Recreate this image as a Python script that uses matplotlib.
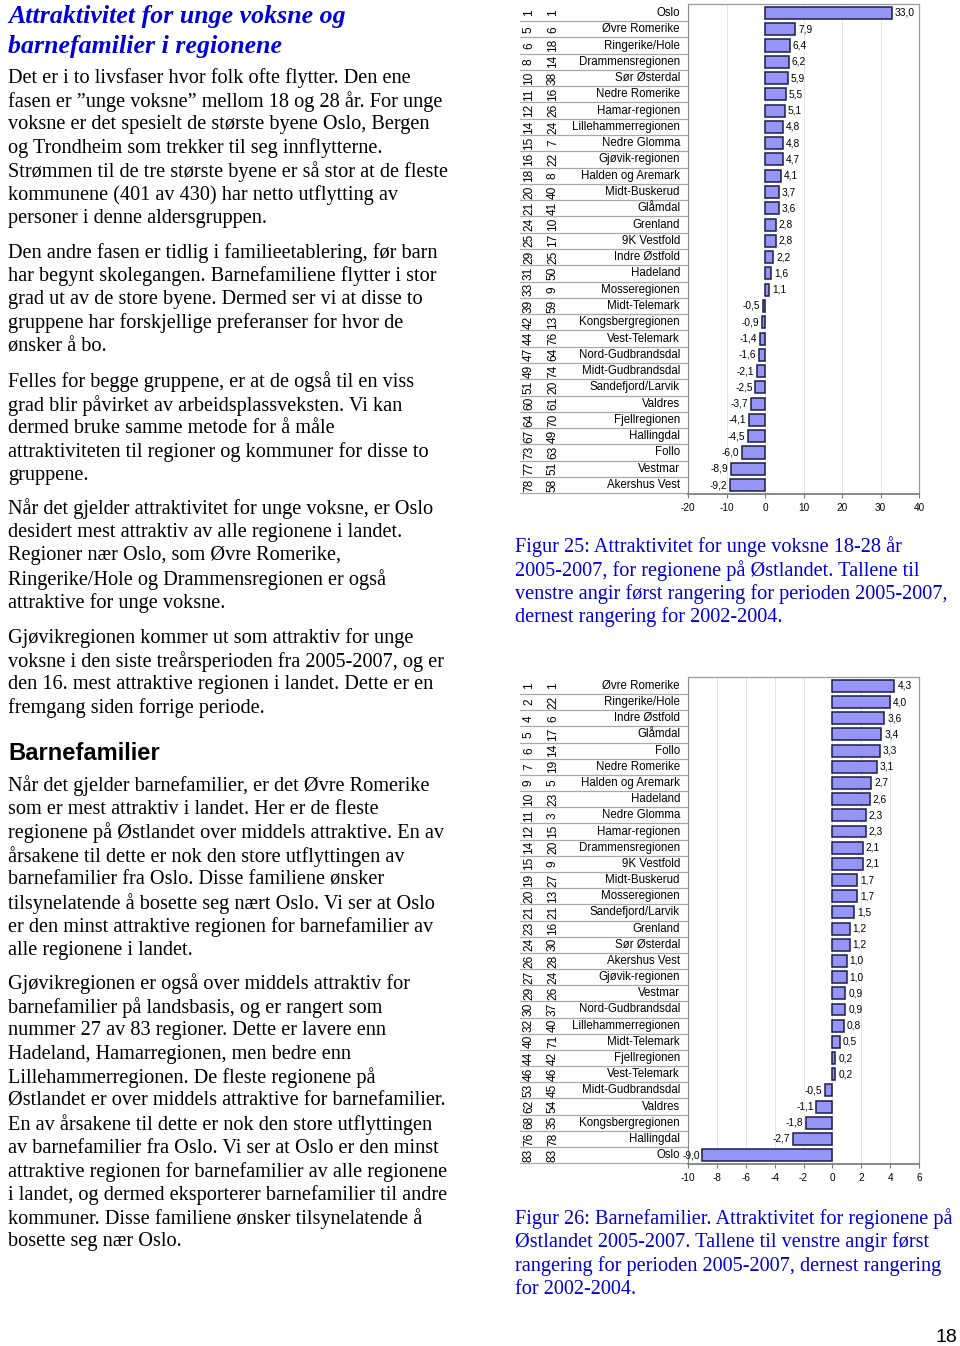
import matplotlib.pyplot as plt
import matplotlib.transforms as mtransforms

plt.rcParams['axes.unicode_minus'] = False

W, H = 960, 1346

# Figur 25: unge voksne
names_25 = ["Oslo", "Øvre Romerike", "Ringerike/Hole", "Drammensregionen", "Sør Østerdal",
            "Nedre Romerike", "Hamar-regionen", "Lillehammerregionen", "Nedre Glomma",
            "Gjøvik-regionen", "Halden og Aremark", "Midt-Buskerud", "Glåmdal", "Grenland",
            "9K Vestfold", "Indre Østfold", "Hadeland", "Mosseregionen", "Midt-Telemark",
            "Kongsbergregionen", "Vest-Telemark", "Nord-Gudbrandsdal", "Midt-Gudbrandsdal",
            "Sandefjord/Larvik", "Valdres", "Fjellregionen", "Hallingdal", "Follo",
            "Vestmar", "Akershus Vest"]
rank_25_0507 = [1, 5, 6, 8, 10, 11, 12, 14, 15, 16, 18, 20, 21, 24, 25, 29, 31, 33, 39, 42,
                44, 47, 49, 51, 60, 64, 67, 73, 77, 78]
rank_25_0204 = [1, 6, 18, 14, 38, 16, 26, 24, 7, 22, 8, 40, 41, 10, 17, 25, 50, 9, 59, 13,
                76, 64, 74, 20, 61, 70, 49, 63, 51, 58]
values_25 = [33.0, 7.9, 6.4, 6.2, 5.9, 5.5, 5.1, 4.8, 4.8, 4.7, 4.1, 3.7, 3.6, 2.8, 2.8,
             2.2, 1.6, 1.1, -0.5, -0.9, -1.4, -1.6, -2.1, -2.5, -3.7, -4.1, -4.5, -6.0,
             -8.9, -9.2]

# Figur 26: barnefamilier
names_26 = ["Øvre Romerike", "Ringerike/Hole", "Indre Østfold", "Glåmdal", "Follo",
            "Nedre Romerike", "Halden og Aremark", "Hadeland", "Nedre Glomma",
            "Hamar-regionen", "Drammensregionen", "9K Vestfold", "Midt-Buskerud",
            "Mosseregionen", "Sandefjord/Larvik", "Grenland", "Sør Østerdal",
            "Akershus Vest", "Gjøvik-regionen", "Vestmar", "Nord-Gudbrandsdal",
            "Lillehammerregionen", "Midt-Telemark", "Fjellregionen", "Vest-Telemark",
            "Midt-Gudbrandsdal", "Valdres", "Kongsbergregionen", "Hallingdal", "Oslo"]
rank_26_0507 = [1, 2, 4, 5, 6, 7, 9, 10, 11, 12, 14, 15, 19, 20, 21, 23, 24, 26, 27, 29,
                30, 32, 40, 44, 46, 53, 62, 68, 76, 83]
rank_26_0204 = [1, 22, 6, 17, 14, 19, 5, 23, 3, 15, 20, 9, 27, 13, 21, 16, 30, 28, 24, 26,
                37, 40, 71, 42, 46, 45, 54, 35, 78, 83]
values_26 = [4.3, 4.0, 3.6, 3.4, 3.3, 3.1, 2.7, 2.6, 2.3, 2.3, 2.1, 2.1, 1.7, 1.7, 1.5,
             1.2, 1.2, 1.0, 1.0, 0.9, 0.9, 0.8, 0.5, 0.2, 0.2, -0.5, -1.1, -1.8, -2.7,
             -9.0]

serif = "Liberation Serif"
sans = "Liberation Sans"
blue = "#0000d8"
bar_face = "#9595f5"
bar_edge = "#1c1c4a"

fig = plt.figure(figsize=(W / 100, H / 100), dpi=100)


def fy(y):
    return 1 - y / H


def fx(x):
    return x / W


def txt(x, y, s, **kw):
    fig.text(fx(x), fy(y), s, va="center", ha="left", **kw)


# --- left column text ---
txt(8, 16, "Attraktivitet for unge voksne og", family=serif, fontsize=18.6,
    weight="bold", style="italic", color=blue)
txt(8, 46, "barnefamilier i regionene", family=serif, fontsize=18.6,
    weight="bold", style="italic", color=blue)

paragraphs = [
    (78, ["Det er i to livsfaser hvor folk ofte flytter. Den ene",
          "fasen er ”unge voksne” mellom 18 og 28 år. For unge",
          "voksne er det spesielt de største byene Oslo, Bergen",
          "og Trondheim som trekker til seg innflytterne.",
          "Strømmen til de tre største byene er så stor at de fleste",
          "kommunene (401 av 430) har netto utflytting av",
          "personer i denne aldersgruppen."]),
    (253, ["Den andre fasen er tidlig i familieetablering, før barn",
           "har begynt skolegangen. Barnefamiliene flytter i stor",
           "grad ut av de store byene. Dermed ser vi at disse to",
           "gruppene har forskjellige preferanser for hvor de",
           "ønsker å bo."]),
    (382, ["Felles for begge gruppene, er at de også til en viss",
           "grad blir påvirket av arbeidsplassveksten. Vi kan",
           "dermed bruke samme metode for å måle",
           "attraktiviteten til regioner og kommuner for disse to",
           "gruppene."]),
    (509, ["Når det gjelder attraktivitet for unge voksne, er Oslo",
           "desidert mest attraktiv av alle regionene i landet.",
           "Regioner nær Oslo, som Øvre Romerike,",
           "Ringerike/Hole og Drammensregionen er også",
           "attraktive for unge voksne."]),
    (638, ["Gjøvikregionen kommer ut som attraktiv for unge",
           "voksne i den siste treårsperioden fra 2005-2007, og er",
           "den 16. mest attraktive regionen i landet. Dette er en",
           "fremgang siden forrige periode."]),
    (786, ["Når det gjelder barnefamilier, er det Øvre Romerike",
           "som er mest attraktiv i landet. Her er de fleste",
           "regionene på Østlandet over middels attraktive. En av",
           "årsakene til dette er nok den store utflyttingen av",
           "barnefamilier fra Oslo. Disse familiene ønsker",
           "tilsynelatende å bosette seg nært Oslo. Vi ser at Oslo",
           "er den minst attraktive regionen for barnefamilier av",
           "alle regionene i landet."]),
    (984, ["Gjøvikregionen er også over middels attraktiv for",
           "barnefamilier på landsbasis, og er rangert som",
           "nummer 27 av 83 regioner. Dette er lavere enn",
           "Hadeland, Hamarregionen, men bedre enn",
           "Lillehammerregionen. De fleste regionene på",
           "Østlandet er over middels attraktive for barnefamilier.",
           "En av årsakene til dette er nok den store utflyttingen",
           "av barnefamilier fra Oslo. Vi ser at Oslo er den minst",
           "attraktive regionen for barnefamilier av alle regionene",
           "i landet, og dermed eksporterer barnefamilier til andre",
           "kommuner. Disse familiene ønsker tilsynelatende å",
           "bosette seg nær Oslo."]),
]
lh = 23.45
for y0, lines in paragraphs:
    for k, line in enumerate(lines):
        txt(8, y0 + k * lh, line, family=serif, fontsize=14.6, color="black")

txt(8, 754, "Barnefamilier", family=sans, fontsize=17.1, weight="bold", color="black")

captions = [
    (547, ["Figur 25: Attraktivitet for unge voksne 18-28 år",
           "2005-2007, for regionene på Østlandet. Tallene til",
           "venstre angir først rangering for perioden 2005-2007,",
           "dernest rangering for 2002-2004."]),
    (1219, ["Figur 26: Barnefamilier. Attraktivitet for regionene på",
            "Østlandet 2005-2007. Tallene til venstre angir først",
            "rangering for perioden 2005-2007, dernest rangering",
            "for 2002-2004."]),
]
for y0, lines in captions:
    for k, line in enumerate(lines):
        txt(515, y0 + k * lh, line, family=serif, fontsize=14.6, color=blue)

fig.text(fx(957), fy(1337), "18", family=sans, fontsize=14, ha="right", va="center")


# --- charts ---
def draw_chart(top, bottom, xmin, xmax, step, names, r1, r2, vals, lab_off):
    x0, x1 = 688, 919
    ax = fig.add_axes([fx(x0), fy(bottom), (x1 - x0) / W, (bottom - top) / H])
    n = len(names)
    ypos = list(range(n))
    ax.barh(ypos, vals, height=0.74, color=bar_face, edgecolor=bar_edge, linewidth=1.1,
            zorder=3)
    ax.set_xlim(xmin, xmax)
    ax.set_ylim(n - 0.45, -0.55)
    ax.set_xticks(range(xmin, xmax + 1, step))
    ax.tick_params(axis="x", labelsize=7.2, length=3, color="#777777", pad=3.5)
    for lab in ax.get_xticklabels():
        lab.set_family(sans)
    ax.set_yticks([])
    ax.grid(axis="x", color="#e4e4e4", linewidth=0.7, zorder=0)
    for side in ["top", "right"]:
        ax.spines[side].set_color("#9a9a9a")
        ax.spines[side].set_linewidth(0.9)
    ax.spines["left"].set_color("#888888")
    ax.spines["bottom"].set_color("#777777")
    ax.spines["bottom"].set_linewidth(1.2)
    ax.axvline(0, color="#bdbdbd", linewidth=0.6, zorder=1)

    # value labels
    for i, v in enumerate(vals):
        s = f"{v:.1f}".replace(".", ",")
        if v >= 0:
            ax.text(v + lab_off, i, s, ha="left", va="center", fontsize=7.3, family=sans,
                    zorder=4)
        else:
            ax.text(v - lab_off, i, s, ha="right", va="center", fontsize=7.3, family=sans,
                    zorder=4)

    # table to the left of the plot
    tr = mtransforms.blended_transform_factory(ax.transAxes, ax.transData)
    px = 1.0 / (x1 - x0)
    for i in range(n):
        ax.text(-(x0 - 529) * px, i, str(r1[i]), rotation=90, ha="center", va="center",
                fontsize=8.6, family=sans, transform=tr, clip_on=False)
        ax.text(-(x0 - 553) * px, i, str(r2[i]), rotation=90, ha="center", va="center",
                fontsize=8.6, family=sans, transform=tr, clip_on=False)
        ax.text(-(x0 - 680) * px, i, names[i], ha="right", va="center", fontsize=8.3,
                family=sans, transform=tr, clip_on=False)
        ax.plot([-(x0 - 520) * px, 0], [i + 0.5, i + 0.5], color="#a8a8a8",
                linewidth=0.9, transform=tr, clip_on=False)
    return ax


draw_chart(4, 494, -20, 40, 10, names_25, rank_25_0507, rank_25_0204, values_25, 0.7)
draw_chart(677, 1164, -10, 6, 2, names_26, rank_26_0507, rank_26_0204, values_26, 0.2)

fig.savefig("out.png", dpi=100)
